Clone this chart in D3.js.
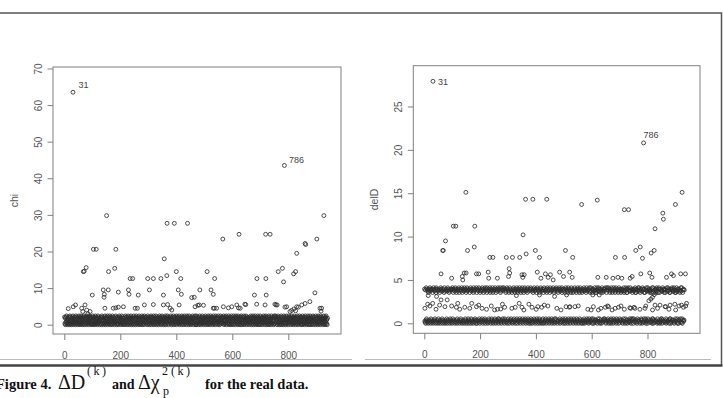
<!DOCTYPE html>
<html>
<head>
<meta charset="utf-8">
<script src="https://cdn.jsdelivr.net/npm/d3@7"></script>
<style>
  body { margin: 0; background: #fff; }
  svg { display: block; }
</style>
</head>
<body>
<div id="chart"></div>
<script>
// Tick values
const xTicks = [0, 200, 400, 600, 800];
const chiTicks = [0, 10, 20, 30, 40, 50, 60, 70];
const delTicks = [0, 5, 10, 15, 20, 25];

// observations that get a text label
const labelled = [31, 786];

// chi: large values [observation, chi]
const chiHigh = [[31,63.5],[786,43.5],[151,29.8],[927,29.8],[367,27.7],[393,27.7],[440,27.7],[566,23.4],[902,23.4],
  [624,24.7],[719,24.7],[735,24.7],[860,22.2],[862,21.9],[830,19.5],[104,20.6],[114,20.6],[184,20.6],[357,18.0],
  [68,14.5],[71,14.6],[78,15.6],[158,14.5],[180,15.4],[235,12.6],[244,12.6],[298,12.6],[318,12.6],[345,12.6],
  [366,13.4],[400,14.5],[416,12.6],[510,14.5],[537,12.6],[688,12.6],[720,12.6],[764,14.5],[779,15.4],[783,11.7],
  [819,13.9],[826,14.5],[895,8.7],[100,8.1],[139,9.5],[157,9.5],[143,8.3],[142,7.5],[193,8.9],[229,9.5],[231,8.3],
  [264,8.1],[304,9.5],[354,8.1],[407,9.5],[418,8.3],[464,7.5],[484,9.5],[524,9.5],[532,8.3],[679,8.1],[721,8.1]];

// chi: values just above the dense band
const chiMid = [[14,4.4],[32,4.9],[40,5.4],[62,4.5],[66,3.6],[74,5.4],[80,4.0],[84,3.0],[92,3.6],[145,4.5],[175,4.5],
  [184,4.6],[193,4.8],[211,4.9],[253,4.5],[261,4.5],[286,5.4],[318,5.5],[354,5.4],[369,5.5],[378,4.5],[384,4.0],
  [410,5.4],[455,7.4],[467,4.9],[477,5.3],[482,5.4],[497,5.3],[532,4.5],[536,4.5],[544,4.5],[568,4.9],[586,4.6],
  [598,4.9],[616,5.4],[622,4.6],[628,4.5],[645,5.6],[648,5.5],[687,5.6],[717,5.4],[752,5.6],[756,5.4],[760,5.4],
  [788,4.8],[794,4.9],[806,3.6],[812,3.9],[820,4.3],[826,3.8],[830,4.9],[836,4.8],[848,5.4],[860,5.8],[877,6.3],
  [913,4.5],[917,3.7],[919,4.5]];

// chi: dense band, one digit per observation, chi = digit * 0.3
const chiBand = [
  "7160273815024637102857130642718053627140825731602748153062871420637518024736150826371402856731",
  "0627148305716240837162503817264035716208475130627184036271580432761850247316082574130627483501",
  "2716053842716035827140626317084527360148275036172840561327084163507281642037158260417352806274",
  "1508372641735028641730527168047236158027463185027346107528364170528316740253618047352861703546",
  "3718260457132806473521708364127538016427350816273405827136402857316048275130642718356027418360",
  "0815273640718253016742835107264318057326410875231608472531706284135702846137502863140758236147",
  "6271803546172803657142806315740286137504826173058427136085274130672840517326804751328607415263",
  "4072615837026148305762184037516280473615082734160527386140752836017425380716425308617243507816",
  "1827364057182630475120836714502837162045817352604817325607481236507184326057132860741528367014",
  "7305816247035186274013582760341857026134780562713408527163048257136084725136027485130672841506"
].join("");

// delD: large values [observation, delD]
const delHigh = [[31,27.9],[786,20.8],[149,15.1],[363,14.3],[389,14.3],[439,14.3],[564,13.7],[620,14.2],[717,13.1],
  [732,13.1],[855,12.7],[857,12.0],[900,13.7],[924,15.1],[66,8.4],[68,8.4],[76,9.5],[60,5.7],[98,5.2],[104,11.2],
  [113,11.2],[181,11.2],[155,8.4],[179,8.8],[136,5.4],[138,5.0],[143,5.8],[150,5.8],[187,5.7],[195,5.7],[229,5.9],
  [231,5.2],[235,7.6],[246,7.6],[262,5.2],[294,7.6],[316,7.6],[342,7.6],[304,6.3],[302,5.4],[306,5.8],[354,10.2],
  [365,8.0],[350,5.6],[353,5.3],[358,5.6],[398,8.4],[413,7.6],[405,5.9],[418,5.2],[434,5.7],[444,5.3],[452,5.6],
  [462,5.0],[485,5.9],[499,5.4],[506,8.4],[521,5.9],[530,5.3],[532,7.6],[622,5.3],[652,5.3],[676,5.2],[685,7.6],
  [694,5.3],[708,5.2],[718,7.6],[738,5.2],[745,5.4],[758,8.4],[774,8.8],[776,5.7],[782,7.5],[808,5.8],[816,5.3],
  [813,8.1],[824,8.4],[827,10.9],[868,5.3],[886,5.7],[893,5.5],[919,5.7],[936,5.7]];

// delD: sparse values between the two bands
const delMid = [[2,1.73],[20,2.0],[42,1.62],[60,2.7],[74,1.92],[82,2.7],[98,2.0],[115,1.85],[127,1.62],[145,1.85],
  [163,1.73],[187,1.92],[207,1.73],[223,1.62],[240,2.0],[252,1.54],[262,1.62],[274,1.65],[288,1.85],[314,1.73],
  [326,1.85],[350,1.85],[357,1.54],[386,1.85],[401,1.62],[407,1.92],[421,1.85],[443,2.0],[475,1.73],[490,1.54],
  [508,1.92],[520,1.85],[552,2.0],[586,1.62],[598,1.54],[624,1.54],[633,1.73],[649,1.85],[657,2.0],[673,1.54],
  [696,1.85],[705,2.0],[717,1.62],[740,1.73],[752,1.85],[773,1.62],[794,2.0],[818,1.54],[836,1.73],[865,1.92],
  [877,1.62],[901,1.54],[913,2.0],[929,1.85],[937,2.0],[14,3.2],[44,3.1],[330,3.2],[413,3.27],[467,3.1],
  [510,3.27],[604,3.27],[627,3.27],[805,2.6],[812,2.8],[818,3.0],[824,3.3],[830,3.5],[522,1.92],[540,1.92],
  [606,1.92],[660,1.92],[684,1.73],[737,1.8],[755,1.73],[791,1.73],[827,2.1],[845,2.1],[863,1.92],[881,2.1],
  [898,2.2],[922,2.1],[940,2.3],[12,2.2],[30,2.3],[55,2.1],[120,2.3],[170,2.3],[195,2.1],[280,2.2],[340,2.3],
  [375,2.2],[430,2.1]];

// delD: two dense bands, one digit per observation, looked up in delLevels
const delLevels = [0.0, 0.12, 0.25, 0.38, 0.52, 3.55, 3.72, 3.84, 3.95, 4.1];
const delBand = [
  "8217039482716058371926048371852093716428059183720647185203978164208371596023718460293817560248",
  "3718029475813602978153046827195037284619052837160928473501968274031857290463817205936184720395",
  "0827361948052736184970253816490732859106284731956082473915062837491057382619404827395160283947",
  "7192048375612908374156092837461520873914625083719460528371946025837194602578391460327851946023",
  "2870941863027518493607281543908726145038927160384750918236470851936284071593826401783925604718",
  "4193870265381974062813957240863175049281736059428371065493827150648392716054823917068542931706",
  "58302719460823751946731802496512963480578402619375315790246896240815370791563284648391025793",
  "27490183561704938562049173852690417382560914738256381702649572604918355083917264196204738547",
  "06482719535180642793927605184336091827458153407926209473861567318520944905316278738296041518",
  "91503827464063918275781524039612976830545402817936836190257425791640830836257419691405378237"
].join("");

const chiPoints = Array.from(chiBand, (c, i) => [i + 1, +c * 0.3]).concat(chiMid, chiHigh);
const delPoints = Array.from(delBand, (c, i) => [i + 1, delLevels[+c]]).concat(delMid, delHigh);

const W = 723, H = 398;
const sans = "'Liberation Sans', Arial, sans-serif";
const serif = "'Liberation Serif', 'Times New Roman', serif";

const svg = d3.select("#chart")
  .append("svg")
  .attr("width", W)
  .attr("height", H);

// figure frame
svg.append("path")
  .attr("d", "M0,13 H721.5 V365.5")
  .attr("fill", "none")
  .attr("stroke", "#555")
  .attr("stroke-width", 1.5);
svg.append("line")
  .attr("x1", 0).attr("x2", 722.5).attr("y1", 365.5).attr("y2", 365.5)
  .attr("stroke", "#444")
  .attr("stroke-width", 2.5);

// light edges of the two pasted plots
[[0, 352], [365, 711]].forEach(s => {
  svg.append("line")
    .attr("x1", s[0]).attr("x2", s[1]).attr("y1", 359.5).attr("y2", 359.5)
    .attr("stroke", "#bbb");
});

const panels = [
  { left: 53, right: 341, top: 67, bottom: 334, xDomain: [-40.4, 988.2], yDomain: [-2.54, 70.4],
    yTicks: chiTicks, yLabel: "chi", points: chiPoints, titleX: 17.5,
    labelOffsets: [[5.5, -4.5], [4.5, -2.2]] },
  { left: 413.3, right: 700, top: 65.7, bottom: 333.3, xDomain: [-39.4, 988.2], yDomain: [-1.15, 29.7],
    yTicks: delTicks, yLabel: "delD", points: delPoints, titleX: 377.5,
    labelOffsets: [[5, 3.5], [0, -5]] }
];

panels.forEach(p => {
  const x = d3.scaleLinear().domain(p.xDomain).range([p.left, p.right]);
  const y = d3.scaleLinear().domain(p.yDomain).range([p.bottom, p.top]);
  const g = svg.append("g");

  // points
  g.append("g")
    .selectAll("circle")
    .data(p.points)
    .join("circle")
    .attr("cx", d => x(d[0]))
    .attr("cy", d => y(d[1]))
    .attr("r", 1.95)
    .attr("fill", "none")
    .attr("stroke", "#2e2e2e")
    .attr("stroke-width", 0.85);

  // labels of the two outlying observations
  labelled.forEach((obs, i) => {
    const d = p.points.find(q => q[0] === obs && q[1] > 15);
    g.append("text")
      .attr("x", x(d[0]) + p.labelOffsets[i][0])
      .attr("y", y(d[1]) + p.labelOffsets[i][1])
      .attr("fill", "#444")
      .style("font-family", sans)
      .style("font-size", "9px")
      .text(obs);
  });

  // box
  g.append("rect")
    .attr("x", p.left)
    .attr("y", p.top)
    .attr("width", p.right - p.left)
    .attr("height", p.bottom - p.top)
    .attr("fill", "none")
    .attr("stroke", "#808080");

  // X axis
  const xa = g.append("g")
    .attr("transform", "translate(0," + p.bottom + ")")
    .call(d3.axisBottom(x).tickValues(xTicks).tickSize(6).tickSizeOuter(0));
  xa.select(".domain").remove();
  xa.selectAll("line").attr("stroke", "#808080");
  xa.selectAll("text")
    .attr("y", 24.5)
    .attr("dy", 0)
    .attr("fill", "#555")
    .style("font-family", sans)
    .style("font-size", "10px");

  // Y axis, labels turned as in R
  const ya = g.append("g")
    .attr("transform", "translate(" + p.left + ",0)")
    .call(d3.axisLeft(y).tickValues(p.yTicks).tickSize(5.5).tickSizeOuter(0));
  ya.select(".domain").remove();
  ya.selectAll("line").attr("stroke", "#808080");
  ya.selectAll("text")
    .attr("transform", "rotate(-90)")
    .attr("x", 0)
    .attr("y", -11.5)
    .attr("dy", 0)
    .attr("text-anchor", "middle")
    .attr("fill", "#555")
    .style("font-family", sans)
    .style("font-size", "10px");

  // axis title
  g.append("text")
    .attr("transform", "translate(" + p.titleX + "," + (p.top + p.bottom) / 2 + ") rotate(-90)")
    .attr("text-anchor", "middle")
    .attr("fill", "#555")
    .style("font-family", sans)
    .style("font-size", "10.5px")
    .text(p.yLabel);
});

// caption
const caption = [
  { text: "Figure 4.", x: -4, y: 389, size: 14.5, bold: true },
  { text: "\u0394D", x: 58, y: 389, size: 20 },
  { text: "(k)", x: 87, y: 375, size: 12, spacing: 2.5 },
  { text: "and", x: 112, y: 389, size: 14, bold: true },
  { text: "\u0394\u03c7", x: 138, y: 389, size: 20 },
  { text: "2", x: 162, y: 375, size: 12 },
  { text: "(k)", x: 171, y: 375, size: 12, spacing: 2.5 },
  { text: "p", x: 163, y: 395, size: 12 },
  { text: "for the real data.", x: 205, y: 389, size: 14.5, bold: true }
];
caption.forEach(c => {
  svg.append("text")
    .attr("x", c.x)
    .attr("y", c.y)
    .attr("fill", "#111")
    .style("font-family", serif)
    .style("font-size", c.size + "px")
    .style("font-weight", c.bold ? "bold" : "normal")
    .style("letter-spacing", (c.spacing || 0) + "px")
    .text(c.text);
});
</script>
</body>
</html>
